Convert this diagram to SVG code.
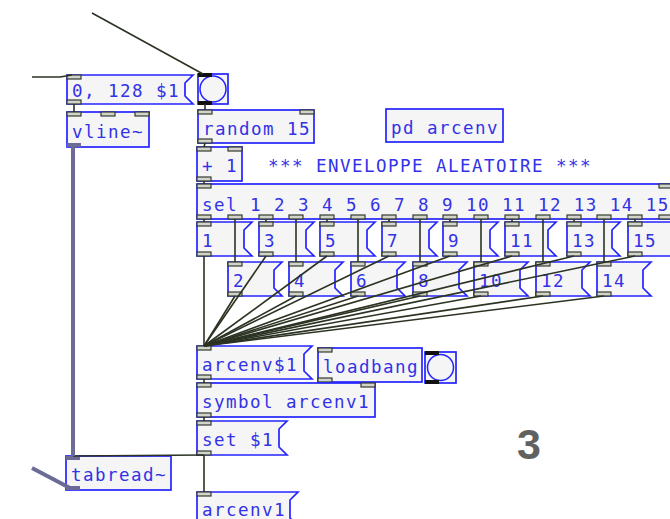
<svg xmlns="http://www.w3.org/2000/svg" width="670" height="519" viewBox="0 0 670 519">
<defs>
<style>
.b{fill:#f5f5f5;stroke:#2424ff;stroke-width:1.7}
.t{font-family:"DejaVu Sans Mono",monospace;font-size:17.5px;letter-spacing:1.46px;fill:#3232e6}
.io{fill:#d2d4cc;stroke:#353b2e;stroke-width:1.2}
.bio{fill:#111111}
.sio{fill:#6c6a96}
.c{stroke:#2b3323;stroke-width:1.6;fill:none}
.s{stroke:#6c6a96;stroke-width:4;fill:none}
.bc{fill:none;stroke:#2424ff;stroke-width:1.5}
</style>
</defs>
<rect width="670" height="519" fill="#ffffff"/>

<g id="msg-0-128">
<path class="b" d="M67 75 H193 L185 83 V96 L193 104 H67 Z"/>
<rect class="io" x="67" y="75" width="14" height="4"/>
<rect class="io" x="67" y="100" width="14" height="4"/>
<text class="t" x="72" y="97">0, 128 $1</text>
</g>
<g id="bang1">
<rect class="b" x="198" y="74" width="30" height="30"/>
<circle class="bc" cx="213" cy="89" r="13"/>
<rect class="bio" x="198" y="73" width="14" height="4"/>
<rect class="bio" x="198" y="101" width="14" height="4"/>
</g>
<g id="vline">
<rect class="b" x="67" y="112" width="82" height="35"/>
<rect class="io" x="67" y="112" width="14" height="4"/>
<rect class="io" x="101" y="112" width="14" height="4"/>
<rect class="io" x="135" y="112" width="14" height="4"/>
<rect class="sio" x="67" y="143" width="14" height="4"/>
<text class="t" x="72" y="138">vline~</text>
</g>
<g id="random">
<rect class="b" x="198" y="110" width="116" height="33"/>
<rect class="io" x="198" y="110" width="14" height="4"/>
<rect class="io" x="300" y="110" width="14" height="4"/>
<rect class="io" x="198" y="139" width="14" height="4"/>
<text class="t" x="203" y="135">random 15</text>
</g>
<g id="pd-arcenv">
<rect class="b" x="386" y="109" width="117" height="33"/>
<text class="t" x="391" y="134">pd arcenv</text>
</g>
<g id="plus1">
<rect class="b" x="197" y="147" width="45" height="34"/>
<rect class="io" x="197" y="147" width="14" height="4"/>
<rect class="io" x="228" y="147" width="14" height="4"/>
<rect class="io" x="197" y="177" width="14" height="4"/>
<text class="t" x="202" y="172">+ 1</text>
</g>
<g id="comment">
<text class="t" x="268" y="172">*** ENVELOPPE ALEATOIRE ***</text>
</g>
<g id="sel">
<rect class="b" x="197" y="184" width="476" height="35"/>
<rect class="io" x="197" y="184" width="14" height="4"/>
<rect class="io" x="659" y="184" width="14" height="4"/>
<g>
<rect class="io" x="197" y="215" width="14" height="4"/>
<rect class="io" x="228" y="215" width="14" height="4"/>
<rect class="io" x="259" y="215" width="14" height="4"/>
<rect class="io" x="289" y="215" width="14" height="4"/>
<rect class="io" x="320" y="215" width="14" height="4"/>
<rect class="io" x="351" y="215" width="14" height="4"/>
<rect class="io" x="382" y="215" width="14" height="4"/>
<rect class="io" x="413" y="215" width="14" height="4"/>
<rect class="io" x="443" y="215" width="14" height="4"/>
<rect class="io" x="474" y="215" width="14" height="4"/>
<rect class="io" x="505" y="215" width="14" height="4"/>
<rect class="io" x="536" y="215" width="14" height="4"/>
<rect class="io" x="567" y="215" width="14" height="4"/>
<rect class="io" x="597" y="215" width="14" height="4"/>
<rect class="io" x="628" y="215" width="14" height="4"/>
<rect class="io" x="659" y="215" width="14" height="4"/>
</g>
<text class="t" x="202" y="211">sel 1 2 3 4 5 6 7 8 9 10 11 12 13 14 15</text>
</g>

<g id="m1"><path class="b" d="M197 222 H252 L244 230 V248 L252 256 H197 Z"/><rect class="io" x="197" y="222" width="14" height="4"/><rect class="io" x="197" y="252" width="14" height="4"/><text class="t" x="202" y="247">1</text></g>
<g id="m3"><path class="b" d="M259 222 H314 L306 230 V248 L314 256 H259 Z"/><rect class="io" x="259" y="222" width="14" height="4"/><rect class="io" x="259" y="252" width="14" height="4"/><text class="t" x="264" y="247">3</text></g>
<g id="m5"><path class="b" d="M320 222 H375 L367 230 V248 L375 256 H320 Z"/><rect class="io" x="320" y="222" width="14" height="4"/><rect class="io" x="320" y="252" width="14" height="4"/><text class="t" x="325" y="247">5</text></g>
<g id="m7"><path class="b" d="M382 222 H437 L429 230 V248 L437 256 H382 Z"/><rect class="io" x="382" y="222" width="14" height="4"/><rect class="io" x="382" y="252" width="14" height="4"/><text class="t" x="387" y="247">7</text></g>
<g id="m9"><path class="b" d="M443 222 H498 L490 230 V248 L498 256 H443 Z"/><rect class="io" x="443" y="222" width="14" height="4"/><rect class="io" x="443" y="252" width="14" height="4"/><text class="t" x="448" y="247">9</text></g>
<g id="m11"><path class="b" d="M505 222 H556 L548 230 V248 L556 256 H505 Z"/><rect class="io" x="505" y="222" width="14" height="4"/><rect class="io" x="505" y="252" width="14" height="4"/><text class="t" x="510" y="247">11</text></g>
<g id="m13"><path class="b" d="M567 222 H620 L612 230 V248 L620 256 H567 Z"/><rect class="io" x="567" y="222" width="14" height="4"/><rect class="io" x="567" y="252" width="14" height="4"/><text class="t" x="572" y="247">13</text></g>
<g id="m15"><path class="b" d="M628 222 H681 L673 230 V248 L681 256 H628 Z"/><rect class="io" x="628" y="222" width="14" height="4"/><rect class="io" x="628" y="252" width="14" height="4"/><text class="t" x="633" y="247">15</text></g>

<g id="m2"><path class="b" d="M228 262 H282 L274 270 V288 L282 296 H228 Z"/><rect class="io" x="228" y="262" width="14" height="4"/><rect class="io" x="228" y="292" width="14" height="4"/><text class="t" x="233" y="287">2</text></g>
<g id="m4"><path class="b" d="M289 262 H343 L335 270 V288 L343 296 H289 Z"/><rect class="io" x="289" y="262" width="14" height="4"/><rect class="io" x="289" y="292" width="14" height="4"/><text class="t" x="294" y="287">4</text></g>
<g id="m6"><path class="b" d="M351 262 H405 L397 270 V288 L405 296 H351 Z"/><rect class="io" x="351" y="262" width="14" height="4"/><rect class="io" x="351" y="292" width="14" height="4"/><text class="t" x="356" y="287">6</text></g>
<g id="m8"><path class="b" d="M413 262 H467 L459 270 V288 L467 296 H413 Z"/><rect class="io" x="413" y="262" width="14" height="4"/><rect class="io" x="413" y="292" width="14" height="4"/><text class="t" x="418" y="287">8</text></g>
<g id="m10"><path class="b" d="M474 262 H528 L520 270 V288 L528 296 H474 Z"/><rect class="io" x="474" y="262" width="14" height="4"/><rect class="io" x="474" y="292" width="14" height="4"/><text class="t" x="479" y="287">10</text></g>
<g id="m12"><path class="b" d="M536 262 H590 L582 270 V288 L590 296 H536 Z"/><rect class="io" x="536" y="262" width="14" height="4"/><rect class="io" x="536" y="292" width="14" height="4"/><text class="t" x="541" y="287">12</text></g>
<g id="m14"><path class="b" d="M597 262 H651 L643 270 V288 L651 296 H597 Z"/><rect class="io" x="597" y="262" width="14" height="4"/><rect class="io" x="597" y="292" width="14" height="4"/><text class="t" x="602" y="287">14</text></g>

<g id="arcenv-msg">
<path class="b" d="M197 346 H312 L304 354 V371 L312 379 H197 Z"/>
<rect class="io" x="197" y="346" width="14" height="4"/>
<rect class="io" x="197" y="375" width="14" height="4"/>
<text class="t" x="202" y="371">arcenv$1</text>
</g>
<g id="loadbang">
<rect class="b" x="318" y="348" width="104" height="34"/>
<rect class="io" x="318" y="348" width="14" height="4"/>
<rect class="io" x="318" y="378" width="14" height="4"/>
<text class="t" x="323" y="373">loadbang</text>
</g>
<g id="bang2">
<rect class="b" x="425" y="352" width="31" height="31"/>
<circle class="bc" cx="440.5" cy="367.5" r="13"/>
<rect class="bio" x="425" y="351" width="14" height="4"/>
<rect class="bio" x="425" y="380" width="14" height="4"/>
</g>
<g id="symbol">
<rect class="b" x="197" y="383" width="178" height="34"/>
<rect class="io" x="197" y="383" width="14" height="4"/>
<rect class="io" x="361" y="383" width="14" height="4"/>
<rect class="io" x="197" y="413" width="14" height="4"/>
<text class="t" x="202" y="408">symbol arcenv1</text>
</g>
<g id="set">
<path class="b" d="M197 421 H287 L279 429 V447 L287 455 H197 Z"/>
<rect class="io" x="197" y="421" width="14" height="4"/>
<rect class="io" x="197" y="451" width="14" height="4"/>
<text class="t" x="202" y="446">set $1</text>
</g>
<g id="tabread">
<rect class="b" x="66" y="456" width="105" height="34"/>
<rect class="sio" x="66" y="456" width="14" height="4"/>
<rect class="sio" x="66" y="486" width="14" height="4"/>
<text class="t" x="71" y="481">tabread~</text>
</g>
<g id="arcenv1">
<path class="b" d="M197 492 H298 L290 500 V518 L298 526 H197 Z"/>
<rect class="io" x="197" y="492" width="14" height="4"/>
<text class="t" x="202" y="516">arcenv1</text>
</g>

<g id="connectors">
<line class="c" x1="92" y1="13" x2="203" y2="74"/>
<polyline class="c" points="32,77 60,77 72,75"/>
<line class="c" x1="74" y1="104" x2="74" y2="112"/>
<line class="c" x1="205" y1="104" x2="205" y2="110"/>
<line class="c" x1="205" y1="143" x2="204" y2="147"/>
<line class="c" x1="204" y1="181" x2="204" y2="184"/>
<line class="c" x1="204" y1="219" x2="204" y2="222"/>
<line class="c" x1="235" y1="219" x2="235" y2="262"/>
<line class="c" x1="266" y1="219" x2="266" y2="222"/>
<line class="c" x1="296" y1="219" x2="296" y2="262"/>
<line class="c" x1="327" y1="219" x2="327" y2="222"/>
<line class="c" x1="358" y1="219" x2="358" y2="262"/>
<line class="c" x1="389" y1="219" x2="389" y2="222"/>
<line class="c" x1="420" y1="219" x2="420" y2="262"/>
<line class="c" x1="450" y1="219" x2="450" y2="222"/>
<line class="c" x1="481" y1="219" x2="481" y2="262"/>
<line class="c" x1="512" y1="219" x2="512" y2="222"/>
<line class="c" x1="543" y1="219" x2="543" y2="262"/>
<line class="c" x1="574" y1="219" x2="574" y2="222"/>
<line class="c" x1="604" y1="219" x2="604" y2="262"/>
<line class="c" x1="635" y1="219" x2="635" y2="222"/>
<line class="c" x1="204" y1="256" x2="204" y2="346"/>
<line class="c" x1="266" y1="256" x2="204" y2="346"/>
<line class="c" x1="327" y1="256" x2="204" y2="346"/>
<line class="c" x1="389" y1="256" x2="204" y2="346"/>
<line class="c" x1="450" y1="256" x2="204" y2="346"/>
<line class="c" x1="512" y1="256" x2="204" y2="346"/>
<line class="c" x1="574" y1="256" x2="204" y2="346"/>
<line class="c" x1="635" y1="256" x2="204" y2="346"/>
<line class="c" x1="235" y1="296" x2="204" y2="346"/>
<line class="c" x1="296" y1="296" x2="204" y2="346"/>
<line class="c" x1="358" y1="296" x2="204" y2="346"/>
<line class="c" x1="420" y1="296" x2="204" y2="346"/>
<line class="c" x1="481" y1="296" x2="204" y2="346"/>
<line class="c" x1="543" y1="296" x2="204" y2="346"/>
<line class="c" x1="604" y1="296" x2="204" y2="346"/>
<line class="c" x1="204" y1="379" x2="204" y2="383"/>
<line class="c" x1="204" y1="417" x2="204" y2="421"/>
<line class="c" x1="204" y1="455" x2="73" y2="456"/>
<line class="c" x1="204" y1="455" x2="204" y2="492"/>
<line class="s" x1="73" y1="147" x2="73" y2="456"/>
<line class="s" x1="32" y1="468" x2="70" y2="488"/>
</g>

<text x="517" y="459" font-family="Liberation Sans, Arial, sans-serif" font-size="43" font-weight="bold" fill="#616161">3</text>
</svg>
